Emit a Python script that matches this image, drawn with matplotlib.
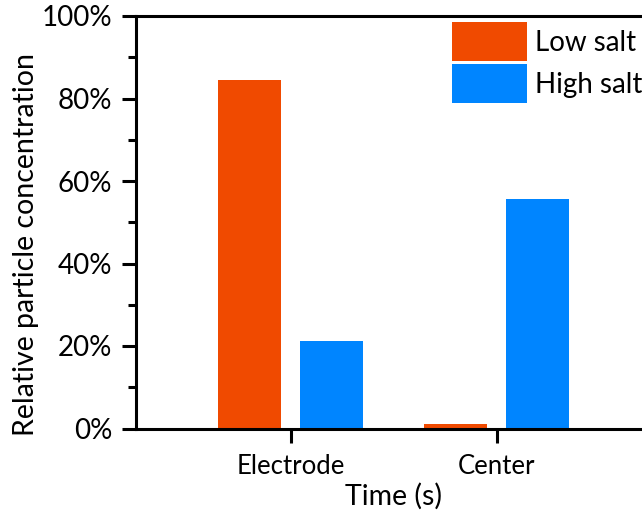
import matplotlib.pyplot as plt
import numpy as np
from matplotlib.ticker import MultipleLocator, PercentFormatter

plt.rcParams['font.family'] = ['Lato', 'DejaVu Sans']

# Relative particle concentration (%) at each location
locations = ['Electrode', 'Center']
low_salt = [84.5, 1.1]
high_salt = [21.2, 55.6]

low_color = '#F04A00'
high_color = '#0085FF'

fig = plt.figure(figsize=(6.42, 5.14), dpi=100)
W, H = 642, 514
ax = fig.add_axes([136 / W, (H - 428.5) / H, (651 - 136) / W, 412.5 / H])

x = np.arange(len(locations))
width = 0.305
ax.bar(x - 0.2, low_salt, width, color=low_color, label='Low salt')
ax.bar(x + 0.2, high_salt, width, color=high_color, label='High salt')

ax.set_xlim(-0.75, 1.75)
ax.set_ylim(0, 100)
ax.set_xticks(x)
ax.set_xticklabels(locations)
ax.yaxis.set_major_locator(MultipleLocator(20))
ax.yaxis.set_minor_locator(MultipleLocator(10))
ax.yaxis.set_major_formatter(PercentFormatter(decimals=0))

for s in ['left', 'bottom', 'top']:
    ax.spines[s].set_linewidth(2.2)
ax.spines['right'].set_visible(False)
ax.tick_params(axis='both', which='major', direction='out', length=10, width=2.2)
ax.tick_params(axis='y', which='major', labelsize=20, pad=7)
ax.tick_params(axis='x', which='major', labelsize=18.5, pad=8)
ax.tick_params(axis='y', which='minor', direction='out', length=5.5, width=2.2)

ax.set_xlabel('Time (s)', fontsize=20.5, labelpad=3)
ax.set_ylabel('Relative particle concentration', fontsize=20.5)
ax.yaxis.set_label_coords(-0.188, 0.445)

ax.legend(loc='upper left', bbox_to_anchor=(452 / W, (H - 22) / H),
          bbox_transform=fig.transFigure, frameon=False, fontsize=20,
          handlelength=2.7, handleheight=1.8, labelspacing=0.1,
          handletextpad=0.3, borderpad=0, borderaxespad=0)

fig.savefig('out.png', dpi=100)
